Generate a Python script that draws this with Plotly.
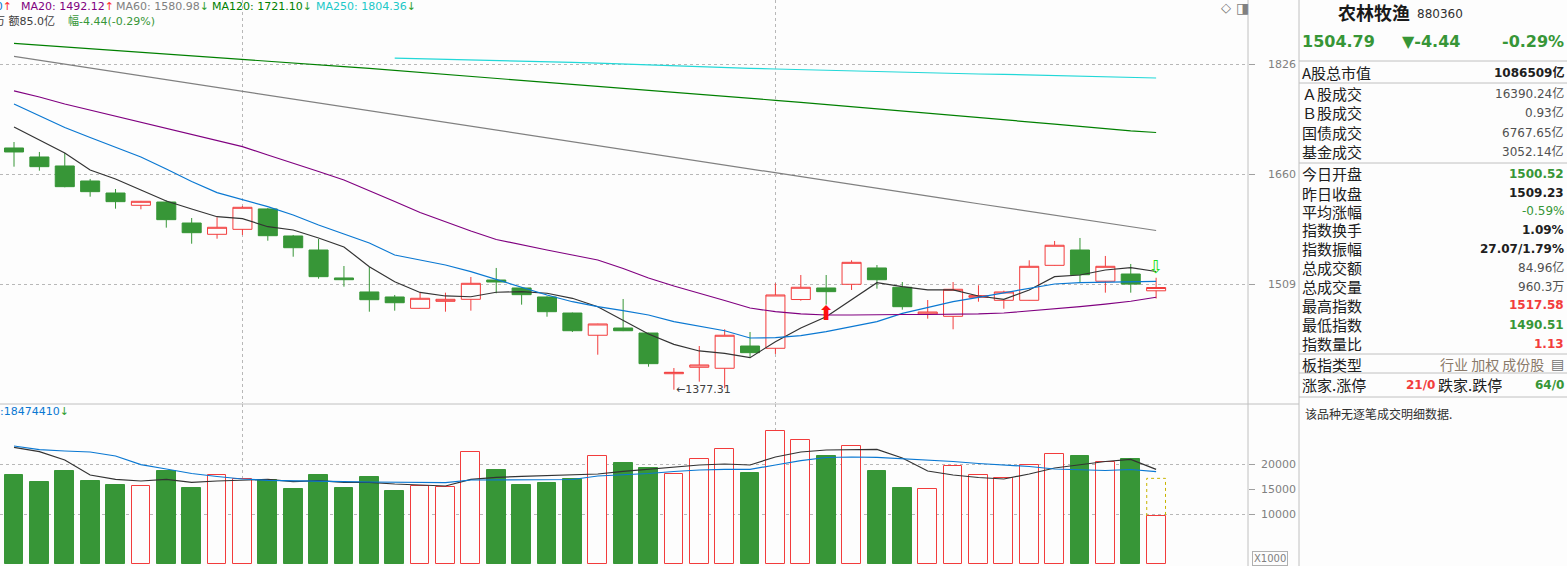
import math
import plotly.graph_objects as go

W, H = 1567, 566

# 日K数据 (农林牧渔 880360)
opens = [1698.2, 1685.0, 1671.9, 1650.3, 1633.2, 1615.9, 1620.5, 1591.3, 1575.8, 1582.6,
         1610.8, 1573.5, 1554.5, 1517.3, 1499.0, 1492.5, 1477.9, 1486.9, 1489.5, 1514.6,
         1504.2, 1492.5, 1471.9, 1443.8, 1452.9, 1446.6, 1396.5, 1404.3, 1403.1, 1430.4,
         1427.6, 1489.2, 1504.2, 1509.0, 1530.5, 1505.1, 1470.7, 1467.7, 1492.1, 1488.2,
         1488.2, 1534.0, 1554.5, 1513.0, 1522.5, 1500.52]
highs = [1707.0, 1692.3, 1690.9, 1653.2, 1638.9, 1622.0, 1622.9, 1598.2, 1599.2, 1614.9,
         1612.1, 1574.9, 1569.4, 1533.1, 1531.8, 1495.1, 1498.1, 1498.1, 1518.6, 1530.5,
         1505.1, 1493.4, 1472.5, 1458.3, 1489.9, 1447.0, 1403.4, 1430.4, 1451.3, 1447.9,
         1510.3, 1521.2, 1521.2, 1540.7, 1534.4, 1512.0, 1488.6, 1512.0, 1507.7, 1500.7,
         1540.7, 1566.7, 1570.8, 1546.5, 1535.8, 1517.58]
lows = [1670.9, 1665.1, 1641.3, 1628.0, 1611.2, 1610.3, 1584.9, 1563.0, 1569.8, 1574.9,
        1567.1, 1545.5, 1516.3, 1505.9, 1473.6, 1474.9, 1477.5, 1473.6, 1474.9, 1497.3,
        1482.6, 1467.2, 1447.9, 1419.7, 1449.0, 1405.0, 1377.31, 1386.9, 1379.0, 1416.5,
        1420.6, 1487.7, 1482.6, 1501.6, 1503.3, 1476.2, 1464.7, 1451.3, 1486.4, 1477.4,
        1487.9, 1533.6, 1512.0, 1498.1, 1498.1, 1490.51]
closes = [1692.3, 1670.9, 1642.2, 1635.1, 1621.0, 1621.5, 1595.9, 1578.0, 1585.4, 1613.1,
          1573.9, 1557.6, 1519.0, 1515.0, 1489.0, 1485.1, 1490.8, 1489.5, 1510.3, 1512.0,
          1495.5, 1473.6, 1449.5, 1458.0, 1449.5, 1408.7, 1398.2, 1407.1, 1443.8, 1422.2,
          1495.1, 1505.1, 1499.4, 1538.0, 1515.0, 1480.0, 1473.2, 1502.5, 1494.2, 1499.0,
          1532.7, 1560.9, 1521.6, 1532.7, 1509.23, 1504.79]

# 均线
ma5 = [1729.4, 1710.0, 1690.9, 1666.1, 1653.2, 1637.5, 1621.9, 1610.8, 1600.0, 1597.3,
       1586.2, 1581.7, 1570.8, 1558.6, 1532.2, 1512.4, 1498.4, 1493.8, 1492.8, 1498.6,
       1499.4, 1497.3, 1490.8, 1480.0, 1463.0, 1445.4, 1432.5, 1424.3, 1421.4, 1416.0,
       1435.8, 1452.9, 1467.2, 1488.6, 1511.1, 1505.9, 1501.6, 1501.6, 1493.8, 1489.5,
       1501.6, 1519.0, 1521.2, 1527.8, 1530.9, 1525.8]
ma10 = [1764.2, 1745.9, 1728.6, 1713.7, 1698.9, 1685.0, 1667.5, 1649.6, 1633.7, 1623.4,
        1614.0, 1602.4, 1588.6, 1576.2, 1564.0, 1547.8, 1541.1, 1534.4, 1525.6, 1515.5,
        1505.9, 1495.1, 1486.4, 1480.0, 1474.9, 1469.4, 1460.9, 1455.4, 1449.5, 1440.4,
        1440.8, 1443.3, 1448.3, 1454.6, 1460.9, 1471.5, 1479.2, 1486.4, 1492.1, 1498.1,
        1503.8, 1509.4, 1511.1, 1512.0, 1512.0, 1512.9]
ma20 = [1784.2, 1774.9, 1764.2, 1755.0, 1745.9, 1736.9, 1727.9, 1718.9, 1709.3, 1700.1,
        1687.9, 1676.2, 1664.0, 1651.7, 1636.8, 1621.3, 1605.9, 1592.7, 1580.3, 1568.7,
        1561.3, 1554.5, 1547.8, 1541.1, 1529.8, 1517.3, 1506.8, 1497.7, 1488.0, 1478.3,
        1473.6, 1470.7, 1469.4, 1469.4, 1470.0, 1470.0, 1470.0, 1470.0, 1470.7, 1471.9,
        1474.5, 1477.1, 1480.0, 1483.3, 1487.0, 1492.12]
ma60 = [1838.5, 1832.3, 1826.1, 1820.1, 1814.0, 1807.8, 1801.7, 1795.7, 1789.8, 1783.7,
        1777.7, 1771.7, 1765.7, 1759.9, 1754.0, 1748.1, 1742.2, 1736.3, 1730.6, 1724.7,
        1718.9, 1713.1, 1707.3, 1701.7, 1696.0, 1690.3, 1684.6, 1678.9, 1673.4, 1667.7,
        1662.1, 1656.5, 1650.9, 1645.5, 1639.9, 1634.4, 1628.9, 1623.4, 1618.1, 1612.6,
        1607.1, 1601.7, 1596.3, 1591.1, 1585.7, 1580.98]
ma120 = [1859.4, 1856.6, 1853.9, 1851.1, 1848.3, 1845.4, 1842.6, 1839.6, 1836.9, 1833.9,
         1831.0, 1828.1, 1825.2, 1822.3, 1819.3, 1816.2, 1813.2, 1810.3, 1807.3, 1804.2,
         1801.1, 1798.2, 1795.0, 1791.9, 1788.7, 1785.6, 1782.5, 1779.4, 1776.2, 1773.1,
         1769.8, 1766.6, 1763.4, 1760.2, 1756.8, 1753.6, 1750.3, 1747.1, 1743.8, 1740.4,
         1737.1, 1733.7, 1730.4, 1726.9, 1723.6, 1721.10]
ma250 = [None] * 15 + [1835.6, 1834.8, 1834.0, 1833.2, 1831.6, 1830.8, 1830.0, 1828.9,
                       1827.6, 1826.1, 1824.5, 1823.2, 1822.1, 1820.5, 1819.4, 1818.5,
                       1817.4, 1816.3, 1815.3, 1814.2, 1813.4, 1812.7, 1811.6, 1810.6,
                       1810.0, 1809.1, 1808.0, 1806.9, 1805.9, 1805.3, 1804.36]

# 成交量 (x1000)
volumes = [17800, 16400, 18600, 16600, 15800, 15530, 18600, 15200, 17730, 16930,
           16800, 15000, 17800, 15200, 17400, 14600, 15530, 15330, 22330, 18800,
           15800, 16200, 17000, 21530, 20200, 19200, 18000, 21000, 23000, 18270,
           26600, 24800, 21600, 23600, 18670, 15200, 15000, 19600, 17730, 17200,
           19730, 22000, 21600, 20400, 21000, 9603]
vol_ma5 = [23330, 22470, 20800, 17800, 16930, 16600, 16930, 16330, 16600, 16800,
           16930, 16470, 16670, 16330, 16330, 16000, 15870, 15600, 16930, 17330,
           17530, 17730, 17800, 18000, 18530, 19000, 19400, 19800, 20000, 19800,
           21400, 22400, 22800, 22800, 22930, 21200, 18600, 17800, 17300, 17000,
           18000, 19200, 19800, 20500, 20930, 18920]
vol_ma10 = [23600, 22870, 22600, 22400, 21600, 19870, 19000, 18100, 17500, 17000,
            16730, 16600, 16530, 16470, 16400, 16330, 16300, 16270, 16800, 16800,
            16800, 16800, 16900, 17600, 17800, 18100, 18500, 18800, 18930, 18930,
            19800, 20660, 21300, 21400, 21330, 21100, 20860, 20500, 20100, 19870,
            19500, 19000, 18800, 18700, 18900, 18474]
proj_volume = 17130  # 预估量

buy_idx = 32
sell_idx = 45
low_idx = 26
price_ticks = [1509, 1660, 1826]
vol_ticks = [10000, 15000, 20000]
vol_grid = [10000, 20000]
month_idx = [9, 30]

# 右侧行情栏
panel_labels = ['A股总市值', 'Ａ股成交', 'Ｂ股成交', '国债成交', '基金成交', '今日开盘',
                '昨日收盘', '平均涨幅', '指数换手', '指数振幅', '总成交额', '总成交量',
                '最高指数', '最低指数', '指数量比', '板指类型']
panel_values = ['1086509亿', '16390.24亿', '0.93亿', '6767.65亿', '3052.14亿', '1500.52',
                '1509.23', '-0.59%', '1.09%', '27.07/1.79%', '84.96亿', '960.3万',
                '1517.58', '1490.51', '1.13', '行业 加权 成份股']

RED = '#f23c3c'
GREEN = '#379637'
BG = '#fdfdfd'
GRID = '#b8b8b8'
NUM = 'DejaVu Sans, Noto Sans CJK SC'
CJK = 'Noto Sans CJK SC'

idx = list(range(len(closes)))
up = [c >= o for o, c in zip(opens, closes)]


def px(x):
    return x / W


def py(y):
    return 1 - y / H


fig = go.Figure()

fig.add_trace(go.Candlestick(
    x=idx, open=opens, high=highs, low=lows, close=closes,
    increasing=dict(line=dict(color=RED, width=1), fillcolor=BG),
    decreasing=dict(line=dict(color=GREEN, width=1), fillcolor=GREEN),
    whiskerwidth=0, showlegend=False, xaxis='x', yaxis='y'))

ma_lines = [(ma5, '#333333'), (ma10, '#0a78d2'), (ma20, '#800080'),
            (ma60, '#808080'), (ma120, '#008000'), (ma250, '#22d8d8')]
for vals, col in ma_lines:
    fig.add_trace(go.Scatter(x=idx, y=vals, mode='lines', line=dict(color=col, width=1.2),
                             showlegend=False, xaxis='x', yaxis='y'))

# 买卖信号
fig.add_trace(go.Scatter(x=[buy_idx], y=[lows[buy_idx]], mode='text', text=['⬆'],
                         textposition='bottom center',
                         textfont=dict(color='#ff1010', size=20, family='DejaVu Sans'),
                         showlegend=False, xaxis='x', yaxis='y'))
fig.add_trace(go.Scatter(x=[sell_idx], y=[highs[sell_idx]], mode='text', text=['⇩'],
                         textposition='top center',
                         textfont=dict(color='#20e020', size=18, family='DejaVu Sans'),
                         showlegend=False, xaxis='x', yaxis='y'))

# 成交量柱
fig.add_trace(go.Bar(
    x=idx, y=volumes, width=0.74,
    marker=dict(color=[BG if u else GREEN for u in up],
                line=dict(color=[RED if u else GREEN for u in up], width=1)),
    showlegend=False, xaxis='x2', yaxis='y2'))

last = idx[-1]
fig.add_trace(go.Scatter(
    x=[last - 0.37, last - 0.37, last + 0.37, last + 0.37],
    y=[volumes[-1], proj_volume, proj_volume, volumes[-1]],
    mode='lines', line=dict(color='#c8b400', width=1, dash='dot'),
    showlegend=False, xaxis='x2', yaxis='y2'))

fig.add_trace(go.Scatter(x=idx, y=vol_ma5, mode='lines', line=dict(color='#333333', width=1.2),
                         showlegend=False, xaxis='x2', yaxis='y2'))
fig.add_trace(go.Scatter(x=idx, y=vol_ma10, mode='lines', line=dict(color='#0a78d2', width=1.2),
                         showlegend=False, xaxis='x2', yaxis='y2'))

# 刻度短线用的叠加轴
fig.add_trace(go.Scatter(x=[], y=[], xaxis='x', yaxis='y3', showlegend=False))
fig.add_trace(go.Scatter(x=[], y=[], xaxis='x2', yaxis='y4', showlegend=False))

x_dom = [0, px(1248)]
x_rng = [-0.552, 48.62]
p_dom = [py(403), 1]
v_dom = [0, py(404)]
p_rng = [math.log10(1361.5), math.log10(1930.5)]
v_rng = [-400, 32000]
lab_font = dict(family='DejaVu Sans', size=11, color='#808080')

fig.update_layout(
    width=W, height=H, margin=dict(l=0, r=0, t=0, b=0),
    paper_bgcolor=BG, plot_bgcolor=BG, boxgap=0.25, boxgroupgap=0,
    bargap=0, showlegend=False,
    xaxis=dict(domain=x_dom, range=x_rng, anchor='y', tickvals=month_idx, showticklabels=False,
               ticks='', showgrid=True, griddash='dot', gridcolor=GRID, zeroline=False,
               rangeslider=dict(visible=False)),
    xaxis2=dict(domain=x_dom, range=x_rng, anchor='y2', matches='x', tickvals=month_idx,
                showticklabels=False, ticks='', showgrid=True, griddash='dot',
                gridcolor=GRID, zeroline=False),
    yaxis=dict(domain=p_dom, type='log', range=p_rng, anchor='free', position=px(1296),
               side='left', tickvals=price_ticks, ticktext=[str(t) for t in price_ticks],
               ticks='', tickfont=lab_font, showgrid=True, griddash='dot', gridcolor=GRID,
               zeroline=False, showline=False),
    yaxis2=dict(domain=v_dom, range=v_rng, anchor='free', position=px(1296), side='left',
                tickvals=vol_ticks, ticktext=[str(t) for t in vol_ticks], ticks='',
                tickfont=lab_font, showgrid=False, zeroline=False, showline=False,
                minor=dict(tickvals=vol_grid, showgrid=True, griddash='dot', gridcolor=GRID)),
    yaxis3=dict(overlaying='y', type='log', range=p_rng, anchor='x', side='right',
                tickvals=price_ticks, ticks='outside', ticklen=6, tickcolor='#a0a0a0',
                showticklabels=False, showgrid=False, zeroline=False),
    yaxis4=dict(overlaying='y2', range=v_rng, anchor='x2', side='right',
                tickvals=vol_ticks, ticks='outside', ticklen=6, tickcolor='#a0a0a0',
                showticklabels=False, showgrid=False, zeroline=False),
)

# 框线
line_col = '#c0c0c0'
frame = [(1248, 0, 1248, H), (1299, 0, 1299, H), (0, 404, 1299, 404),
         (1299, 61, W, 61), (1299, 83, W, 83), (1299, 163, W, 163),
         (1299, 354, W, 354), (1299, 373, W, 373), (1299, 397, W, 397)]
for x0, y0, x1, y1 in frame:
    fig.add_shape(type='line', xref='paper', yref='paper', x0=px(x0), y0=py(y0),
                  x1=px(x1), y1=py(y1), line=dict(color=line_col, width=1))

ann = []


def text(x, y, s, color='#202020', size=11, anchor='left', family=NUM, bold=False):
    if bold:
        s = '<b>' + s + '</b>'
    ann.append(dict(x=px(x), y=py(y), xref='paper', yref='paper', text=s, showarrow=False,
                    xanchor=anchor, yanchor='middle', borderpad=0,
                    font=dict(family=family, size=size, color=color)))


UPA = "<span style='color:#ff3030'>↑</span>"
DNA = "<span style='color:#30a030'>↓</span>"
# 顶部均线数值
text(13, 7, 'MA10: 1512.90' + UPA, '#0a78d2', anchor='right')
text(20, 7, 'MA20: 1492.12' + UPA, '#800080')
text(115, 7, 'MA60: 1580.98' + DNA, '#808080')
text(211, 7, 'MA120: 1721.10' + DNA, '#008000')
text(315, 7, 'MA250: 1804.36' + DNA, '#20c8c8')
text(56, 21, '量960万 额85.0亿', '#404040', anchor='right')
text(67, 21, '幅-4.44(-0.29%)', GREEN)
text(1226, 8, '◇', '#707070', size=13, anchor='center')
text(1242, 8, '◨', '#808080', size=14, anchor='center')
text(70, 411, 'MA10:18474410' + DNA, '#0a78d2', anchor='right')

ann.append(dict(x=low_idx, y=math.log10(lows[low_idx]), xref='x', yref='y',
                text='←' + f'{lows[low_idx]:.2f}', showarrow=False, xanchor='left',
                yanchor='middle', font=dict(family='DejaVu Sans', size=11, color='#404040')))

ann.append(dict(x=px(1270), y=py(558), xref='paper', yref='paper', text='X1000', showarrow=False,
                xanchor='center', yanchor='middle', bordercolor='#b0b0b0', borderwidth=1,
                borderpad=1, font=dict(family='DejaVu Sans', size=10, color='#808080')))

# 右侧行情栏
text(1374, 12, '<b>农林牧渔</b>', '#1a1a1a', size=18, anchor='center', family=CJK)
text(1416, 14, '880360', '#303030', size=12)
text(1301, 42, '1504.79', GREEN, size=16, bold=True)
text(1401, 42, '▼-4.44', GREEN, size=16, bold=True)
text(1565, 42, '-0.29%', GREEN, size=16, anchor='right', bold=True)

row_y = [72, 94, 113, 132, 151, 174, 193, 211, 229.5, 248.5, 267.5, 286.5, 305.5, 324.5, 343.5, 364]
val_col = ['#202020', '#505050', '#505050', '#505050', '#505050', GREEN, '#202020', GREEN,
           '#202020', '#202020', '#505050', '#505050', RED, GREEN, RED, '#8a7a6a']
val_bold = [True, False, False, False, False, True, True, False, True, True, False, False,
            True, True, True, False]
for lab, val, yy, col, b in zip(panel_labels, panel_values, row_y, val_col, val_bold):
    text(1301, yy, lab, '#202020', size=15, family=CJK)
    if lab == '板指类型':
        text(1545, yy, val, col, size=14, anchor='right', family=CJK)
        text(1557, yy, '▤', '#707070', size=14, anchor='center')
    else:
        text(1565, yy, val, col, size=12, anchor='right', bold=b)

text(1301, 385, '涨家.涨停', '#202020', size=15, family=CJK)
text(1405, 385, '21/0', RED, size=12, bold=True)
text(1437, 385, '跌家.跌停', '#202020', size=15, family=CJK)
text(1565, 385, '64/0', GREEN, size=12, anchor='right', bold=True)
text(1304, 413, '该品种无逐笔成交明细数据.', '#303030', size=12, family=CJK)

fig.update_layout(annotations=ann)

fig.write_html("out.html", config={'displayModeBar': False},
               post_script="document.body.style.margin='0';"
                           "document.body.style.overflow='hidden';")
